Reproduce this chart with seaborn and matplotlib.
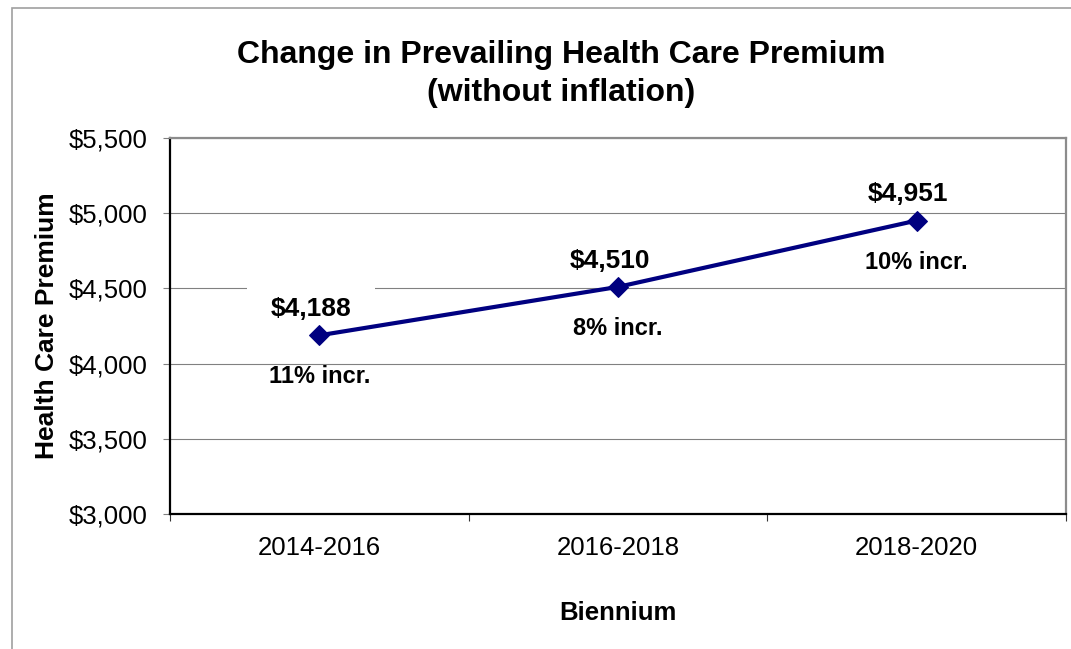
import matplotlib
matplotlib.use("Agg")
import matplotlib.pyplot as plt
import matplotlib.ticker as mticker
from matplotlib.patches import Rectangle
import seaborn as sns
import pandas as pd

# data
biennium = ["2014-2016", "2016-2018", "2018-2020"]
premium = [4188, 4510, 4951]
value_labels = ["$4,188", "$4,510", "$4,951"]
incr_labels = ["11% incr.", "8% incr.", "10% incr."]

sns.set_style("white", {"text.color": "black", "axes.labelcolor": "black",
                        "xtick.color": "black", "ytick.color": "black"})
plt.rcParams["font.family"] = ["Liberation Sans", "DejaVu Sans"]

df = pd.DataFrame({"biennium": biennium, "premium": premium})

fig = plt.figure(figsize=(10.71, 6.49), dpi=100)
ax = fig.add_axes([170 / 1071, 1 - 514 / 649, (1066 - 170) / 1071, (514 - 138) / 649])

sns.lineplot(data=df, x="biennium", y="premium", ax=ax, color="#000080",
             linewidth=3, marker="D", markersize=10, markeredgecolor="#000080",
             zorder=4, sort=False)

ax.set_xlim(-0.5, 2.5)
ax.set_ylim(3000, 5500)
ax.yaxis.set_major_locator(mticker.MultipleLocator(500))
ax.yaxis.set_major_formatter(mticker.FuncFormatter(lambda v, p: f"${v:,.0f}"))
ax.grid(axis="y", color="#808080", linewidth=0.8, zorder=0)
ax.set_axisbelow(True)

# x ticks sit between the categories, labels at the centres
ax.set_xticks([0, 1, 2])
ax.set_xticklabels(biennium)
ax.set_xticks([-0.5, 0.5, 1.5, 2.5], minor=True)
ax.tick_params(axis="x", which="major", length=0, pad=16, labelsize=18.5, labelcolor="black")
ax.tick_params(axis="x", which="minor", length=5, width=0.8, color="#333333", bottom=True)
ax.tick_params(axis="y", which="major", length=5, width=0.8, color="#808080", left=True,
               pad=11, labelsize=18.5, labelcolor="black")

for side in ["left", "bottom"]:
    ax.spines[side].set_color("black")
    ax.spines[side].set_linewidth(1.6)
for side in ["top", "right"]:
    ax.spines[side].set_color("#8c8c8c")
    ax.spines[side].set_linewidth(1.6)

ax.set_xlabel("Biennium", fontsize=18.5, fontweight="bold", labelpad=29, color="black")
ax.set_ylabel("Health Care Premium", fontsize=19, fontweight="bold", labelpad=7, color="black")

for i, (val, vlab, ilab) in enumerate(zip(premium, value_labels, incr_labels)):
    bbox = None
    if i == 0:
        bbox = dict(boxstyle="square,pad=0.9", facecolor="white", edgecolor="none")
    ax.annotate(vlab, (i, val), xytext=(-6, 19), textcoords="offset points",
                ha="center", va="center", fontsize=19, fontweight="bold",
                color="black", bbox=bbox, zorder=2.5)
    ax.annotate(ilab, (i, val), xytext=(0, -30), textcoords="offset points",
                ha="center", va="center", fontsize=17, fontweight="bold",
                color="black", zorder=2.5)

fig.text(561 / 1071, 1 - 74 / 649,
         "Change in Prevailing Health Care Premium\n(without inflation)",
         ha="center", va="center", fontsize=23, fontweight="bold",
         linespacing=1.35, color="black")

# outer chart border (cropped on right and bottom in the reference)
fig.patches.append(Rectangle((12 / 1071, -0.1), 1.2, 1 - 8 / 649 + 0.1,
                             transform=fig.transFigure, fill=False,
                             edgecolor="#a0a0a0", linewidth=1.2))

fig.savefig("out.png", dpi=100)
